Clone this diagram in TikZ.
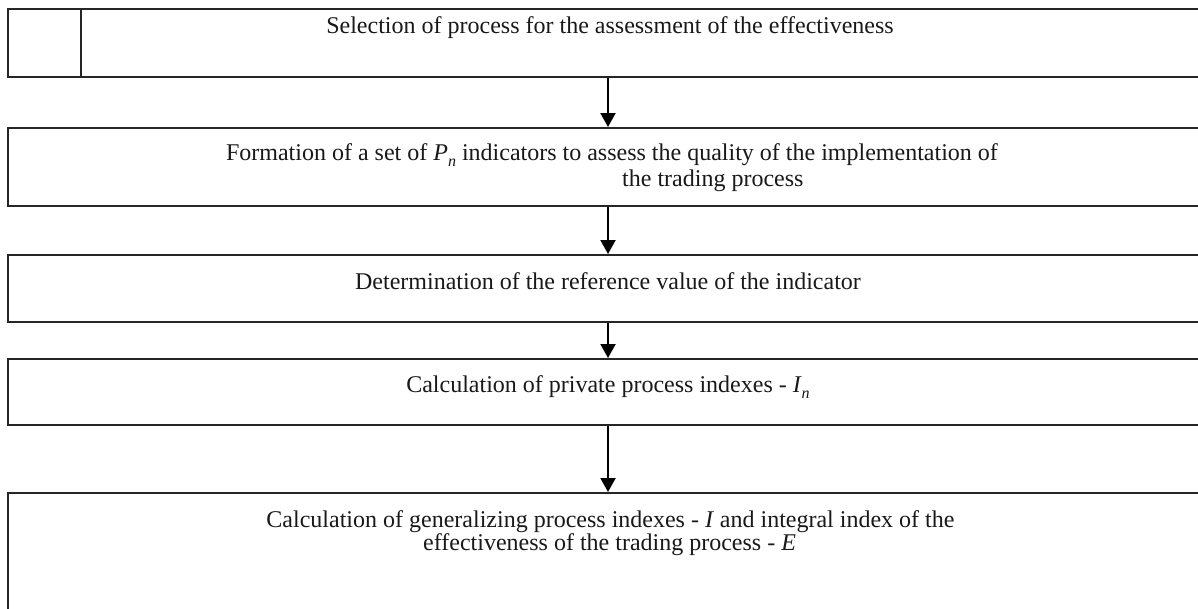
\documentclass[tikz,border=0pt]{standalone}
\usepackage{fontspec}
\setmainfont{Liberation Serif}
\usetikzlibrary{arrows.meta}
\newcommand{\subn}[1]{\raisebox{-0.28em}{\fontsize{16}{16}\selectfont\textit{#1}}}
\begin{document}
\begin{tikzpicture}[x=1pt,y=-1pt,
  box/.style={draw=black!85, line width=2pt, rectangle, minimum width=1197pt, inner sep=0pt},
  txt/.style={inner sep=0pt, font=\fontsize{24}{28}\selectfont, text=black!90},
  flow/.style={draw=black, line width=2pt, -{Triangle[width=15pt,length=14pt]}}]
\useasboundingbox (0,0) rectangle (1198,608);
\fill[white] (0,0) rectangle (1198,608);
% boxes
\node[box, minimum height=68pt] (b1) at (606.5,43) {};
\node[box, minimum height=78pt] (b2) at (606.5,167) {};
\node[box, minimum height=67pt] (b3) at (606.5,288.5) {};
\node[box, minimum height=66pt] (b4) at (606.5,392) {};
\node[box, minimum height=157pt] (b5) at (606.5,571.5) {};
\coordinate (div1) at (81,9);
\coordinate (div2) at (81,77);
\draw[draw=black!85, line width=2pt] (div1) -- (div2);
% texts
\node[txt, anchor=base] (t1) at (610,33) {Selection of process for the assessment of the effectiveness};
\node[txt, anchor=base] (t2a) at (612,160) {Formation of a set of \textit{P}\subn{n} indicators to assess the quality of the implementation of};
\node[txt, anchor=base west] (t2b) at (622,186) {the trading process};
\node[txt, anchor=base] (t3) at (608,289) {Determination of the reference value of the indicator};
\node[txt, anchor=base] (t4) at (608,392) {Calculation of private process indexes - \textit{I}\subn{n}};
\node[txt, anchor=base] (t5a) at (610.5,527) {Calculation of generalizing process indexes - \textit{I} and integral index of the};
\node[txt, anchor=base west] (t5b) at (423,550) {effectiveness of the trading process - \textit{E}};
% connectors
\draw[flow] ([xshift=1.5pt]b1.south) -- ([xshift=1.5pt]b2.north);
\draw[flow] ([xshift=1.5pt]b2.south) -- ([xshift=1.5pt]b3.north);
\draw[flow] ([xshift=1.5pt]b3.south) -- ([xshift=1.5pt]b4.north);
\draw[flow] ([xshift=1.5pt]b4.south) -- ([xshift=1.5pt]b5.north);
\end{tikzpicture}
\end{document}
